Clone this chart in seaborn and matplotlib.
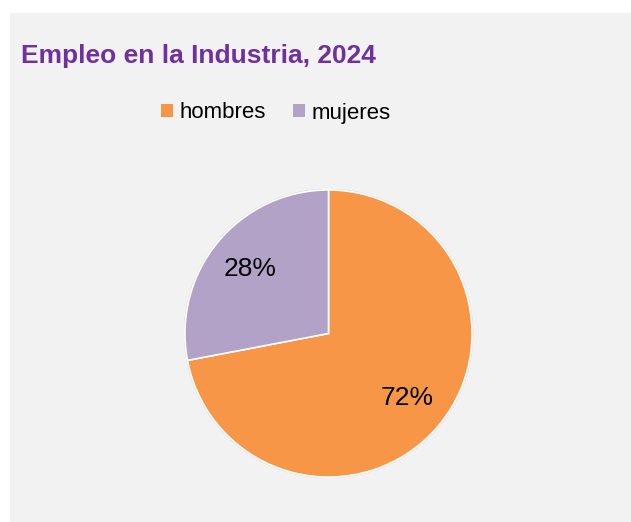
import matplotlib
matplotlib.use("Agg")
import matplotlib.pyplot as plt
from matplotlib.patches import Rectangle, Patch
import seaborn as sns

# datos
categorias = ["hombres", "mujeres"]
valores = [72, 28]
colores = ["#f79646", "#b3a2c7"]
titulo = "Empleo en la Industria, 2024"

sns.set_theme(style="white")
plt.rcParams["font.family"] = ["Liberation Sans", "DejaVu Sans"]

W, H = 631, 522
fig = plt.figure(figsize=(W / 100, H / 100), dpi=100, facecolor="white")

# panel gris de fondo
fig.patches.append(Rectangle((10 / W, 0), 1 - 10 / W, 1 - 13 / H,
                             transform=fig.transFigure, facecolor="#f2f2f2",
                             edgecolor="none", zorder=-10))

fig.text(21 / W, 1 - 63 / H, titulo, color="#7030a0", fontsize=19,
         fontweight="bold", va="baseline", ha="left")

# pie
cx, cy, r = 328.5, 333.5, 145
ax = fig.add_axes([(cx - r) / W, 1 - (cy + r) / H, 2 * r / W, 2 * r / H])
ax.set_facecolor("none")
wedges, _, autotexts = ax.pie(
    valores, colors=colores, startangle=90, counterclock=False,
    autopct="%d%%", pctdistance=0.71,
    wedgeprops=dict(edgecolor="white", linewidth=1.2),
    textprops=dict(fontsize=19, color="black"),
)
# contorno suave alrededor del pie
ax.add_patch(plt.Circle((0, 0), 1.004, facecolor="none", edgecolor="#d9d9d9",
                        linewidth=1.0, zorder=0))
ax.set_xlim(-1.01, 1.01)
ax.set_ylim(-1.01, 1.01)
ax.set_aspect("equal")
ax.axis("off")

handles = [Patch(facecolor=c, edgecolor="none") for c in colores]
leg = fig.legend(handles, categorias, loc="center", bbox_to_anchor=(276 / W, 1 - 113 / H),
                 ncol=2, frameon=False, fontsize=16, handlelength=0.55, handleheight=0.55,
                 handletextpad=0.3, columnspacing=1.2)
for t in leg.get_texts():
    t.set_color("black")

fig.savefig("out.png", dpi=100, facecolor=fig.get_facecolor())
